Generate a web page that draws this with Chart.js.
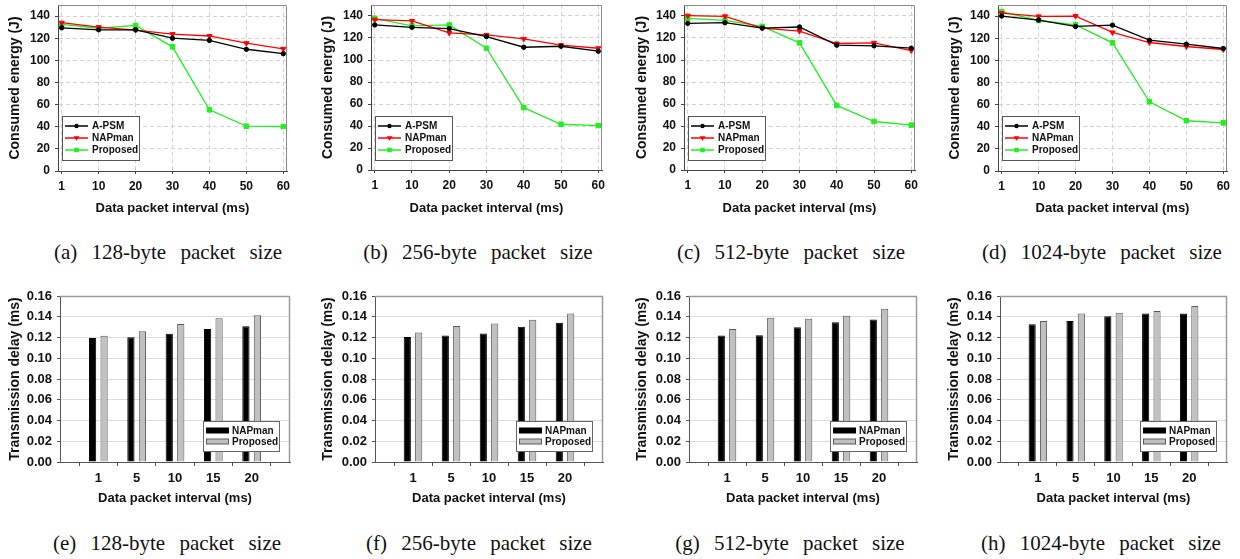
<!DOCTYPE html>
<html>
<head>
<meta charset="utf-8">
<script src="https://cdn.jsdelivr.net/npm/chart.js@4.4.1/dist/chart.umd.min.js"></script>
<style>
  html, body { margin:0; padding:0; background:#fff; }
  #wrap { position:relative; width:1240px; height:559px; overflow:hidden; background:#fff; }
  canvas { position:absolute; }
  .cap { position:absolute; width:320px; text-align:center; font-family:'Liberation Serif','Times New Roman',serif;
         font-size:21px; line-height:24px; word-spacing:9px; color:#111; white-space:nowrap; }
</style>
</head>
<body>
<div id="wrap"></div>
<script>
// ---------- data ----------
const lineIntervals = ['1','10','20','30','40','50','60'];
const barIntervals  = ['1','5','10','15','20'];
const seriesNamesLine = ['A-PSM','NAPman','Proposed'];
const seriesNamesBar  = ['NAPman','Proposed'];
const energyTicks = [0,20,40,60,80,100,120,140];
const delayTicks  = [0,0.02,0.04,0.06,0.08,0.10,0.12,0.14,0.16];

const apsmA = [129.4,127.6,127.6,120.0,118.0,110.0,106.0];
const napA  = [134.0,130.0,127.3,123.7,122.0,115.5,110.4];
const propA = [132.4,129.0,131.5,112.2,55.3,40.5,40.2];

const apsmB = [131.9,129.7,128.5,121.3,111.6,112.5,108.0];
const napB  = [136.7,135.5,124.6,122.8,119.2,113.5,110.7];
const propB = [137.9,131.0,131.9,110.7,56.7,41.6,40.4];

const apsmC = [133.3,133.9,129.0,130.0,113.5,112.9,110.8];
const napC  = [140.3,139.7,129.0,126.3,115.0,115.6,108.6];
const propC = [137.9,136.0,130.6,115.6,58.7,44.1,40.8];

const apsmD = [140.0,136.4,130.6,131.8,118.2,114.6,110.7];
const napD  = [142.7,139.7,140.0,125.2,116.1,112.5,109.8];
const propD = [144.0,136.0,132.1,115.8,62.6,45.4,43.5];

const napE  = [0.1195,0.1202,0.1237,0.1283,0.1309];
const propE = [0.1218,0.1260,0.1331,0.1386,0.1415];
const napF  = [0.1206,0.1219,0.1238,0.1303,0.1341];
const propF = [0.1248,0.1312,0.1335,0.1370,0.1432];
const napG  = [0.1219,0.1222,0.1300,0.1348,0.1374];
const propG = [0.1283,0.1390,0.1380,0.1409,0.1477];
const napH  = [0.1328,0.1360,0.1406,0.1432,0.1432];
const propH = [0.1360,0.1432,0.1438,0.1455,0.1503];

const captions = ['(a) 128-byte packet size','(b) 256-byte packet size','(c) 512-byte packet size','(d) 1024-byte packet size',
                  '(e) 128-byte packet size','(f) 256-byte packet size','(g) 512-byte packet size','(h) 1024-byte packet size'];

// ---------- setup ----------
const FONT = "'Liberation Sans', Arial, sans-serif";
Chart.defaults.font.family = FONT;
Chart.defaults.font.weight = 'bold';
Chart.defaults.color = '#111';
const wrap = document.getElementById('wrap');

function makeCanvas(b) {
  const c = document.createElement('canvas');
  c.width = b.W; c.height = b.H;
  c.style.left = b.cx + 'px'; c.style.top = b.cy + 'px';
  c.style.width = b.W + 'px'; c.style.height = b.H + 'px';
  wrap.appendChild(c);
  return c;
}

function drawMarker(ctx, style, x, y, r, color) {
  ctx.save();
  ctx.fillStyle = color; ctx.strokeStyle = color; ctx.lineWidth = 1;
  ctx.beginPath();
  if (style === 'circle') { ctx.arc(x, y, r, 0, Math.PI*2); }
  else if (style === 'rect') { const s = r*Math.SQRT1_2; ctx.rect(x-s, y-s, 2*s, 2*s); }
  else { // inverted triangle
    ctx.moveTo(x - r, y - r*0.6); ctx.lineTo(x + r, y - r*0.6); ctx.lineTo(x, y + r*0.9); ctx.closePath();
  }
  ctx.fill();
  ctx.restore();
}

const framePlugin = {
  id: 'frame',
  beforeDatasetsDraw(chart, args, opts) {
    const a = chart.chartArea, ctx = chart.ctx;
    ctx.save();
    ctx.strokeStyle = opts.color || '#888'; ctx.lineWidth = opts.width || 1;
    ctx.beginPath();
    ctx.moveTo(a.left, a.top + 0.5); ctx.lineTo(a.right - 0.5, a.top + 0.5); ctx.lineTo(a.right - 0.5, a.bottom);
    ctx.stroke();
    ctx.restore();
  }
};

const lineLegendPlugin = {
  id: 'lineLegend',
  afterDraw(chart) {
    const a = chart.chartArea, ctx = chart.ctx;
    const x0 = a.left + 4, y0 = a.top + 111, w = 77, h = 44;
    ctx.save();
    ctx.fillStyle = '#fff'; ctx.fillRect(x0, y0, w, h);
    ctx.strokeStyle = '#555'; ctx.lineWidth = 1; ctx.strokeRect(x0 + 0.5, y0 + 0.5, w, h);
    ctx.font = 'bold 10px ' + FONT; ctx.textBaseline = 'middle'; ctx.fillStyle = '#111';
    chart.data.datasets.forEach((ds, i) => {
      const yy = y0 + 10 + i * 12;
      ctx.strokeStyle = ds.borderColor; ctx.lineWidth = 1.5;
      ctx.beginPath(); ctx.moveTo(x0 + 3, yy); ctx.lineTo(x0 + 26, yy); ctx.stroke();
      drawMarker(ctx, ds.pointStyle === 'triangle' ? 'tri' : ds.pointStyle, x0 + 14.5, yy, ds.pointRadius, ds.borderColor);
      ctx.fillStyle = '#111';
      ctx.fillText(ds.label, x0 + 30, yy + 0.5);
    });
    ctx.restore();
  }
};

const barLegendPlugin = {
  id: 'barLegend',
  afterDraw(chart) {
    const a = chart.chartArea, ctx = chart.ctx;
    const w = 76, h = 30;
    const x0 = a.right - 11 - w, y0 = a.bottom - 11 - h;
    ctx.save();
    ctx.fillStyle = '#fff'; ctx.fillRect(x0, y0, w, h);
    ctx.strokeStyle = '#666'; ctx.lineWidth = 1; ctx.strokeRect(x0 + 0.5, y0 + 0.5, w, h);
    ctx.font = 'bold 10px ' + FONT; ctx.textBaseline = 'middle';
    chart.data.datasets.forEach((ds, i) => {
      const yy = y0 + 9.5 + i * 11;
      ctx.fillStyle = ds.backgroundColor; ctx.fillRect(x0 + 3, yy - 2.5, 23, 5);
      ctx.strokeStyle = ds.borderColor; ctx.lineWidth = 1; ctx.strokeRect(x0 + 3.5, yy - 2.5, 22, 5);
      ctx.fillStyle = '#111';
      ctx.fillText(ds.label, x0 + 29, yy + 0.5);
    });
    ctx.restore();
  }
};

function lineChart(b, apsm, nap, prop) {
  const c = makeCanvas(b);
  const mk = (arr) => arr.map((v, i) => ({ x: i, y: v }));
  new Chart(c, {
    type: 'line',
    data: {
      datasets: [
        { label: seriesNamesLine[0], data: mk(apsm), borderColor: '#000', backgroundColor: '#000',
          pointStyle: 'circle', pointRadius: 2.2, borderWidth: 1.3, pointBorderWidth: 1 },
        { label: seriesNamesLine[1], data: mk(nap), borderColor: '#ff0000', backgroundColor: '#ff0000',
          pointStyle: 'triangle', rotation: 180, pointRadius: 3, borderWidth: 1.3, pointBorderWidth: 1 },
        { label: seriesNamesLine[2], data: mk(prop), borderColor: '#22ee22', backgroundColor: '#22ee22',
          pointStyle: 'rect', pointRadius: 3.2, borderWidth: 1.3, pointBorderWidth: 1 }
      ]
    },
    options: {
      responsive: false, animation: false, devicePixelRatio: 1,
      layout: { padding: { left: 0, top: b.T - b.cy, right: b.cx + b.W - b.R, bottom: 0 } },
      plugins: { legend: { display: false }, tooltip: { enabled: false }, frame: { color: '#8a8a8a' } },
      scales: {
        x: {
          type: 'linear', min: -0.1, max: lineIntervals.length - 0.9,
          afterBuildTicks: s => { s.ticks = lineIntervals.map((l, i) => ({ value: i })); },
          afterFit: s => { s.height = b.cy + b.H - b.B; s.paddingLeft = 0; s.paddingRight = 0; },
          ticks: { autoSkip: false, maxRotation: 0, padding: 5, font: { size: 12, weight: 'bold' }, color: '#111',
                   callback: v => lineIntervals[v] },
          grid: { color: '#d2d2d2', tickColor: '#444', tickLength: 3 },
          border: { color: '#444', width: 1, dash: [4, 3] },
          title: { display: true, text: 'Data packet interval (ms)', font: { size: 13, weight: 'bold' }, color: '#111',
                   padding: { top: 0, bottom: b.tb } }
        },
        y: {
          min: 0, max: 150,
          afterBuildTicks: s => { s.ticks = energyTicks.map(v => ({ value: v })); },
          afterFit: s => { s.width = b.L - b.cx; s.paddingTop = 0; s.paddingBottom = 0; },
          ticks: { padding: 5, font: { size: 12, weight: 'bold' }, color: '#111' },
          grid: { color: '#d2d2d2', tickColor: '#444', tickLength: 3 },
          border: { color: '#444', width: 1, dash: [4, 3] },
          title: { display: true, text: 'Consumed energy (J)', font: { size: 14, weight: 'bold' }, color: '#111',
                   padding: { top: b.tl - 0.6, bottom: 0 } }
        }
      }
    },
    plugins: [framePlugin, lineLegendPlugin]
  });
}

function barChart(b, nap, prop) {
  const c = makeCanvas(b);
  const labels = [''].concat(barIntervals, ['']);
  const pad = (arr) => [null].concat(arr, [null]);
  new Chart(c, {
    type: 'bar',
    data: {
      labels: labels,
      datasets: [
        { label: seriesNamesBar[0], data: pad(nap), backgroundColor: '#000', borderColor: '#000', borderWidth: 1,
          categoryPercentage: 0.6, barPercentage: 0.63 },
        { label: seriesNamesBar[1], data: pad(prop), backgroundColor: '#c0c0c0', borderColor: '#5a5a5a', borderWidth: 1,
          categoryPercentage: 0.6, barPercentage: 0.63 }
      ]
    },
    options: {
      responsive: false, animation: false, devicePixelRatio: 1,
      layout: { padding: { left: 0, top: b.T - b.cy, right: b.cx + b.W - b.R, bottom: 0 } },
      plugins: { legend: { display: false }, tooltip: { enabled: false }, frame: { color: '#9a9a9a', width: 1.5 } },
      scales: {
        x: {
          type: 'category', offset: false,
          afterFit: s => { s.height = b.cy + b.H - b.B; s.paddingLeft = 0; s.paddingRight = 0; },
          ticks: { autoSkip: false, maxRotation: 0, padding: 5, font: { size: 13, weight: 'bold' }, color: '#111' },
          grid: { drawOnChartArea: false, tickColor: '#555', tickLength: 4 },
          border: { color: '#555', width: 1 },
          title: { display: true, text: 'Data packet interval (ms)', font: { size: 13, weight: 'bold' }, color: '#111',
                   padding: { top: 0, bottom: b.tb } }
        },
        y: {
          min: 0, max: 0.16,
          afterBuildTicks: s => { s.ticks = delayTicks.map(v => ({ value: v })); },
          afterFit: s => { s.width = b.L - b.cx; s.paddingTop = 0; s.paddingBottom = 0; },
          ticks: { padding: 5, font: { size: 13, weight: 'bold' }, color: '#111', callback: v => Number(v).toFixed(2) },
          grid: { color: '#dcdcdc', tickColor: '#555', tickLength: 3 },
          border: { color: '#555', width: 1 },
          title: { display: true, text: 'Transmission delay (ms)', font: { size: 14, weight: 'bold' }, color: '#111',
                   padding: { top: b.tl - 0.6, bottom: 0 } }
        }
      }
    },
    plugins: [framePlugin, barLegendPlugin]
  });
}

// ---------- layout boxes (canvas placement + plot rectangle) ----------
lineChart({ cx: 0,   cy: 0, W: 300, H: 220, L: 58,  T: 5, R: 287,  B: 171, tl: 6.9,  tb: 4.2 }, apsmA, napA, propA);
lineChart({ cx: 310, cy: 0, W: 300, H: 220, L: 371, T: 5, R: 602,  B: 170, tl: 10.5, tb: 4.2 }, apsmB, napB, propB);
lineChart({ cx: 620, cy: 0, W: 305, H: 220, L: 684, T: 5, R: 915,  B: 170, tl: 14.2, tb: 4.2 }, apsmC, napC, propC);
lineChart({ cx: 930, cy: 0, W: 305, H: 220, L: 998, T: 5, R: 1227, B: 171, tl: 17.2, tb: 4.2 }, apsmD, napD, propD);

barChart({ cx: 0,   cy: 280, W: 300, H: 232, L: 60,   T: 296, R: 290,  B: 462, tl: 7.2,  tb: 5.9 }, napE, propE);
barChart({ cx: 310, cy: 280, W: 300, H: 232, L: 375,  T: 296, R: 603,  B: 462, tl: 10.2, tb: 5.9 }, napF, propF);
barChart({ cx: 620, cy: 280, W: 305, H: 232, L: 689,  T: 296, R: 917,  B: 462, tl: 14.2, tb: 5.9 }, napG, propG);
barChart({ cx: 930, cy: 280, W: 305, H: 232, L: 1000, T: 296, R: 1227, B: 462, tl: 16.2, tb: 5.9 }, napH, propH);

// ---------- captions ----------
const capPos = [[168,252],[478,252],[791,252],[1102,252],[167,543],[479,543],[790,543],[1101,543]];
captions.forEach((t, i) => {
  const d = document.createElement('div');
  d.className = 'cap';
  d.textContent = t;
  d.style.left = (capPos[i][0] - 160) + 'px';
  d.style.top = (capPos[i][1] - 12) + 'px';
  wrap.appendChild(d);
});
</script>
</body>
</html>
